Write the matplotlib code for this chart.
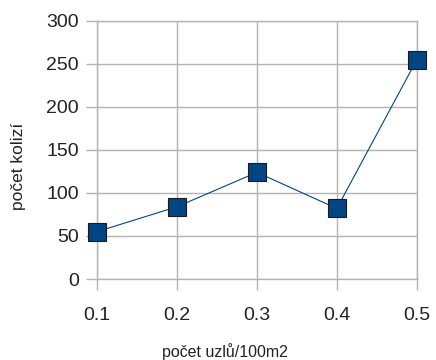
import matplotlib
matplotlib.use("Agg")
import matplotlib.pyplot as plt

plt.rcParams["font.family"] = ["Liberation Sans", "DejaVu Sans"]

# data
nodes = [0.1, 0.2, 0.3, 0.4, 0.5]
collisions = [55, 84, 124, 82, 255]
xticks = [0.1, 0.2, 0.3, 0.4, 0.5]
yticks = [0, 50, 100, 150, 200, 250, 300]

grid_col = "#b3b3b3"

fig = plt.figure(figsize=(4.36, 3.6), dpi=100)
ax = fig.add_axes([0.2225, 0.225, 0.7335, 0.7167])

ax.plot(nodes, collisions, color="#004586", lw=0.8, marker="s", ms=13.5,
        mfc="#004586", mec="#1a1a1a", mew=0.8, clip_on=False, zorder=3)

ax.set_xlim(0.1, 0.5)
ax.set_ylim(0, 300)
ax.set_xticks(xticks)
ax.set_xticklabels([str(v) for v in xticks])
ax.set_yticks(yticks)
ax.grid(True, color=grid_col, lw=1)
for s in ax.spines.values():
    s.set_color(grid_col)
    s.set_linewidth(1)
ax.tick_params(length=8, width=1, color=grid_col, labelsize=14,
               labelcolor="#222222")
ax.tick_params(axis="x", pad=12)
ax.tick_params(axis="y", pad=5)

# axis titles placed like the original
fig.text(225 / 436, 1 - 352 / 360, "počet uzlů/100m2", fontsize=11.5,
         ha="center", va="center", color="#222222")
fig.text(19 / 436, 1 - 166 / 360, "počet kolizí", fontsize=12.5,
         rotation=90, ha="center", va="center", color="#222222")

fig.savefig("out.png", dpi=100)
